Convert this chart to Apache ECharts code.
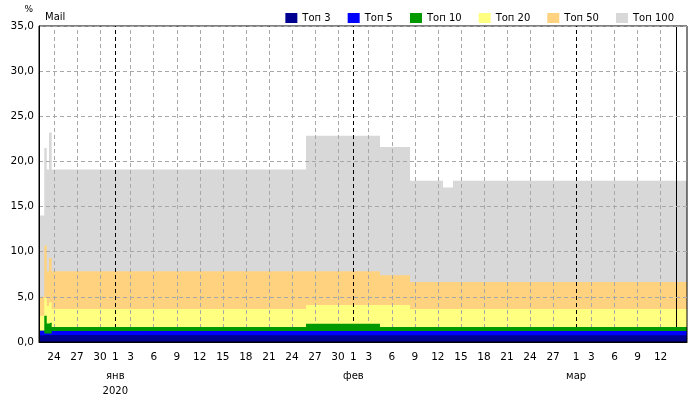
<!DOCTYPE html>
<html><head><meta charset="utf-8">
<script src="https://cdn.jsdelivr.net/npm/echarts@6/dist/echarts.min.js"></script>
<style>html,body{margin:0;padding:0;background:#fff}#c{width:700px;height:400px}</style>
</head><body><div id="c"></div>
<script>
const seriesNames = ['Топ 3','Топ 5','Топ 10','Топ 20','Топ 50','Топ 100'];
const seriesColors = ['#000090','#0000ff','#009900','#ffff80','#ffd280','#d8d8d8'];
const stepTimes = ['2019-12-22 00:00','2019-12-22 18:00','2019-12-23 01:40','2019-12-23 08:50','2019-12-23 17:15','2020-01-25 20:00','2020-02-04 11:15','2020-02-08 09:00','2020-02-12 16:00','2020-02-13 23:15','2020-03-16 00:00'];
const top3   = [0.75,0.77,0.77,0.77,0.75,0.75,0.75,0.75,0.75,0.75,0.75];
const top5   = [1.25,0.95,0.95,0.95,1.22,1.22,1.22,1.22,1.22,1.22,1.22];
const top10  = [1.25,2.9,2.05,2.15,1.66,2.03,1.66,1.66,1.66,1.66,1.66];
const top20  = [2.9,4.9,4.0,4.4,3.65,4.1,4.1,3.65,3.65,3.65,3.65];
const top50  = [5.0,10.7,7.85,9.3,7.85,7.85,7.4,6.65,6.65,6.65,6.65];
const top100 = [14.0,21.5,19.1,23.2,19.1,22.85,21.6,17.85,17.1,17.85,17.85];
const dayTicks = ['2019-12-24','2019-12-27','2019-12-30','2020-01-01','2020-01-03','2020-01-06','2020-01-09','2020-01-12','2020-01-15','2020-01-18','2020-01-21','2020-01-24','2020-01-27','2020-01-30','2020-02-01','2020-02-03','2020-02-06','2020-02-09','2020-02-12','2020-02-15','2020-02-18','2020-02-21','2020-02-24','2020-02-27','2020-03-01','2020-03-03','2020-03-06','2020-03-09','2020-03-12'];
const monthTicks = ['2020-01-01','2020-02-01','2020-03-01'];
const monthLabels = ['янв\n2020','фев','мар'];
const todayMark = '2020-03-14';
const axisStart = '2019-12-22 01:30';
const axisEnd = '2020-03-15 10:34';

// x is expressed in days since 2020-01-01 00:00 (UTC arithmetic, no time zone effects)
const EPOCH = Date.UTC(2020, 0, 1);
function dayNum(s){
  const m = s.match(/(\d+)-(\d+)-(\d+)(?:\s+(\d+):(\d+))?/);
  return (Date.UTC(+m[1], +m[2]-1, +m[3], m[4]?+m[4]:0, m[5]?+m[5]:0) - EPOCH) / 86400000;
}
function dayOfMonth(v){ return new Date(EPOCH + Math.round(v) * 86400000).getUTCDate(); }
const FONT = 'DejaVu Sans';
const allValues = [top3, top5, top10, top20, top50, top100];
const minX = dayNum(axisStart), maxX = dayNum(axisEnd);
const monthX = monthTicks.map(dayNum);
const dayX = dayTicks.map(dayNum);

const series = seriesNames.map((name, i) => ({
  name, type: 'line', step: 'end', symbol: 'none', z: 7 - i,
  silent: true,
  lineStyle: { width: 0, color: seriesColors[i] },
  itemStyle: { color: seriesColors[i] },
  areaStyle: { color: seriesColors[i], opacity: 1 },
  data: stepTimes.map((t, k) => [dayNum(t), allValues[i][k]])
}));

const lines = [];
dayX.forEach(v => { if (monthX.indexOf(v) < 0) lines.push({ xAxis: v, lineStyle: { color: '#a8a8a8', type: [4, 3], width: 1 } }); });
monthX.forEach(v => lines.push({ xAxis: v, lineStyle: { color: '#000', type: [4, 3], width: 1 } }));
lines.push({ xAxis: dayNum(todayMark), lineStyle: { color: '#000', type: 'solid', width: 1 } });

series.push({
  name: 'grid', type: 'line', data: [], z: 9, silent: true,
  markLine: { silent: true, symbol: 'none', animation: false, label: { show: false }, emphasis: { disabled: true }, data: lines }
});

const chart = echarts.init(document.getElementById('c'), null, { renderer: 'canvas' });
chart.setOption({
  animation: false,
  backgroundColor: '#fff',
  title: { text: 'Mail', left: 40, top: 7, textStyle: { fontFamily: FONT, fontSize: 10, fontWeight: 'normal', color: '#000' } },
  legend: {
    data: seriesNames, right: 21, top: 8, icon: 'rect', itemWidth: 12, itemHeight: 10, itemGap: 17,
    textStyle: { fontFamily: FONT, fontSize: 10, color: '#000' }, selectedMode: false
  },
  grid: { left: 39, right: 13, top: 26, bottom: 58, show: true, borderColor: '#000', borderWidth: 1, z: 10, backgroundColor: 'transparent' },
  xAxis: [{
    type: 'value', min: minX, max: maxX, z: 10,
    axisLine: { show: true, onZero: false, lineStyle: { color: '#000', width: 1 } },
    axisTick: { show: false },
    splitLine: { show: false },
    axisLabel: { customValues: dayX, showMinLabel: true, showMaxLabel: true, hideOverlap: false, margin: 10, fontFamily: FONT, fontSize: 10.5, color: '#000',
      formatter: v => String(dayOfMonth(v)) }
  }, {
    type: 'value', min: minX, max: maxX, position: 'bottom', offset: 17, gridIndex: 0,
    axisLine: { show: false, onZero: false }, axisTick: { show: false }, splitLine: { show: false },
    axisLabel: { customValues: monthX, showMinLabel: true, showMaxLabel: true, hideOverlap: false, margin: 10, fontFamily: FONT, fontSize: 10, color: '#000', lineHeight: 15,
      formatter: v => { const k = monthX.indexOf(v); return k >= 0 ? monthLabels[k] : ''; } }
  }],
  yAxis: {
    type: 'value', min: 0, max: 35, interval: 5, z: 10,
    name: '%', nameLocation: 'end', nameGap: 12,
    nameTextStyle: { fontFamily: FONT, fontSize: 9, color: '#000', align: 'right', verticalAlign: 'bottom', padding: [0, 6, 0, 0] },
    axisLine: { show: true, onZero: false, lineStyle: { color: '#000', width: 1 } },
    axisTick: { show: false },
    splitLine: { show: true, lineStyle: { color: '#a8a8a8', type: [4, 3], width: 1 } },
    axisLabel: { margin: 5, fontFamily: FONT, fontSize: 10.5, color: '#000', formatter: v => v.toFixed(1).replace('.', ',') }
  },
  series
});
</script></body></html>
